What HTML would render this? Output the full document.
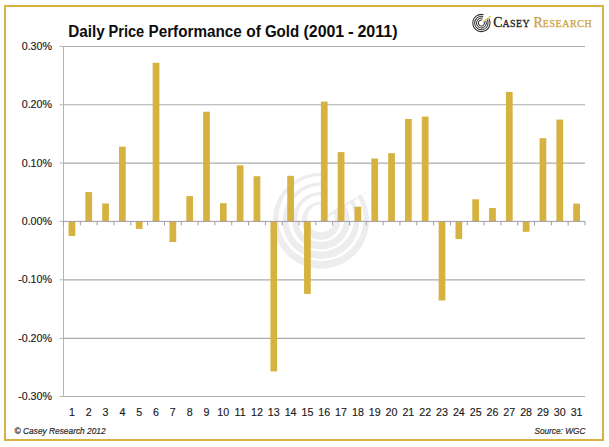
<!DOCTYPE html>
<html><head><meta charset="utf-8"><style>
html,body{margin:0;padding:0;background:#fff;}
svg{display:block;}
text{font-family:"Liberation Sans",sans-serif;}
</style></head><body>
<svg width="609" height="447" viewBox="0 0 609 447">
<rect x="0" y="0" width="609" height="447" fill="#fff"/>
<rect x="5" y="6" width="598" height="434" fill="none" stroke="#D4B344" stroke-width="2"/>
<defs><mask id="wmm"><rect x="0" y="0" width="609" height="447" fill="#fff"/><polygon points="321.0,218.0 326.6,138.2 341.7,140.7 361.0,148.7 377.6,161.4 389.6,176.8" fill="#000"/></mask></defs>
<path d="M301.80,220.70 a19.2,19.2 0 1 0 38.40,0 a19.2,19.2 0 1 0 -38.40,0 Z M307.10,218.50 a13.9,13.9 0 1 0 27.80,0 a13.9,13.9 0 1 0 -27.80,0 Z M292.20,220.70 a28.799999999999997,28.799999999999997 0 1 0 57.60,0 a28.799999999999997,28.799999999999997 0 1 0 -57.60,0 Z M297.50,218.50 a23.5,23.5 0 1 0 47.00,0 a23.5,23.5 0 1 0 -47.00,0 Z M282.60,220.70 a38.4,38.4 0 1 0 76.80,0 a38.4,38.4 0 1 0 -76.80,0 Z M287.90,218.50 a33.1,33.1 0 1 0 66.20,0 a33.1,33.1 0 1 0 -66.20,0 Z M273.00,220.70 a48.0,48.0 0 1 0 96.00,0 a48.0,48.0 0 1 0 -96.00,0 Z M278.30,218.50 a42.699999999999996,42.699999999999996 0 1 0 85.40,0 a42.699999999999996,42.699999999999996 0 1 0 -85.40,0 Z" fill="#EDEDEF" fill-rule="evenodd" mask="url(#wmm)"/>
<path d="M323,217.5 Q345,203 370,190.3 Q347,206 324,219.5 Z" fill="#EDEDEF"/>
<g stroke="#ABABAB" stroke-width="1.15" fill="none">
<line x1="63.5" y1="46.45" x2="585.0" y2="46.45"/><line x1="63.5" y1="104.75" x2="585.0" y2="104.75"/><line x1="63.5" y1="163.05" x2="585.0" y2="163.05"/><line x1="63.5" y1="279.8" x2="585.0" y2="279.8"/><line x1="63.5" y1="338.35" x2="585.0" y2="338.35"/><line x1="63.5" y1="396.45" x2="585.0" y2="396.45"/>
</g>
<g stroke="#B4B4B4" stroke-width="1" fill="none">
<line x1="59.5" y1="46.45" x2="63.5" y2="46.45"/><line x1="59.5" y1="104.75" x2="63.5" y2="104.75"/><line x1="59.5" y1="163.05" x2="63.5" y2="163.05"/><line x1="59.5" y1="221.4" x2="63.5" y2="221.4"/><line x1="59.5" y1="279.8" x2="63.5" y2="279.8"/><line x1="59.5" y1="338.35" x2="63.5" y2="338.35"/><line x1="59.5" y1="396.45" x2="63.5" y2="396.45"/>
<line x1="63.5" y1="46" x2="63.5" y2="397"/>
</g>
<g fill="#D6B240">
<rect x="68.55" y="221.40" width="6.73" height="14.60"/><rect x="85.37" y="192.10" width="6.73" height="29.30"/><rect x="102.19" y="203.50" width="6.73" height="17.90"/><rect x="119.01" y="146.70" width="6.73" height="74.70"/><rect x="135.84" y="221.40" width="6.73" height="7.50"/><rect x="152.66" y="62.80" width="6.73" height="158.60"/><rect x="169.48" y="221.40" width="6.73" height="20.60"/><rect x="186.30" y="196.10" width="6.73" height="25.30"/><rect x="203.13" y="111.70" width="6.73" height="109.70"/><rect x="219.95" y="203.20" width="6.73" height="18.20"/><rect x="236.77" y="165.30" width="6.73" height="56.10"/><rect x="253.60" y="176.20" width="6.73" height="45.20"/><rect x="270.42" y="221.40" width="6.73" height="150.00"/><rect x="287.24" y="175.80" width="6.73" height="45.60"/><rect x="304.06" y="221.40" width="6.73" height="72.50"/><rect x="320.89" y="101.60" width="6.73" height="119.80"/><rect x="337.71" y="152.10" width="6.73" height="69.30"/><rect x="354.53" y="206.70" width="6.73" height="14.70"/><rect x="371.35" y="158.50" width="6.73" height="62.90"/><rect x="388.18" y="153.20" width="6.73" height="68.20"/><rect x="405.00" y="119.00" width="6.73" height="102.40"/><rect x="421.82" y="116.60" width="6.73" height="104.80"/><rect x="438.64" y="221.40" width="6.73" height="79.10"/><rect x="455.47" y="221.40" width="6.73" height="17.70"/><rect x="472.29" y="199.30" width="6.73" height="22.10"/><rect x="489.11" y="208.00" width="6.73" height="13.40"/><rect x="505.93" y="91.90" width="6.73" height="129.50"/><rect x="522.76" y="221.40" width="6.73" height="10.40"/><rect x="539.58" y="138.20" width="6.73" height="83.20"/><rect x="556.40" y="119.60" width="6.73" height="101.80"/><rect x="573.22" y="203.60" width="6.73" height="17.80"/>
</g>
<g stroke="#9E9CA6" stroke-width="1" fill="none">
<line x1="63.5" y1="221.4" x2="585.0" y2="221.4"/>
<line x1="63.50" y1="221.4" x2="63.50" y2="225.4"/><line x1="80.32" y1="221.4" x2="80.32" y2="225.4"/><line x1="97.15" y1="221.4" x2="97.15" y2="225.4"/><line x1="113.97" y1="221.4" x2="113.97" y2="225.4"/><line x1="130.79" y1="221.4" x2="130.79" y2="225.4"/><line x1="147.61" y1="221.4" x2="147.61" y2="225.4"/><line x1="164.44" y1="221.4" x2="164.44" y2="225.4"/><line x1="181.26" y1="221.4" x2="181.26" y2="225.4"/><line x1="198.08" y1="221.4" x2="198.08" y2="225.4"/><line x1="214.90" y1="221.4" x2="214.90" y2="225.4"/><line x1="231.73" y1="221.4" x2="231.73" y2="225.4"/><line x1="248.55" y1="221.4" x2="248.55" y2="225.4"/><line x1="265.37" y1="221.4" x2="265.37" y2="225.4"/><line x1="282.19" y1="221.4" x2="282.19" y2="225.4"/><line x1="299.02" y1="221.4" x2="299.02" y2="225.4"/><line x1="315.84" y1="221.4" x2="315.84" y2="225.4"/><line x1="332.66" y1="221.4" x2="332.66" y2="225.4"/><line x1="349.48" y1="221.4" x2="349.48" y2="225.4"/><line x1="366.31" y1="221.4" x2="366.31" y2="225.4"/><line x1="383.13" y1="221.4" x2="383.13" y2="225.4"/><line x1="399.95" y1="221.4" x2="399.95" y2="225.4"/><line x1="416.77" y1="221.4" x2="416.77" y2="225.4"/><line x1="433.60" y1="221.4" x2="433.60" y2="225.4"/><line x1="450.42" y1="221.4" x2="450.42" y2="225.4"/><line x1="467.24" y1="221.4" x2="467.24" y2="225.4"/><line x1="484.06" y1="221.4" x2="484.06" y2="225.4"/><line x1="500.89" y1="221.4" x2="500.89" y2="225.4"/><line x1="517.71" y1="221.4" x2="517.71" y2="225.4"/><line x1="534.53" y1="221.4" x2="534.53" y2="225.4"/><line x1="551.35" y1="221.4" x2="551.35" y2="225.4"/><line x1="568.18" y1="221.4" x2="568.18" y2="225.4"/><line x1="585.00" y1="221.4" x2="585.00" y2="225.4"/>
</g>
<g fill="#1a1a1a" stroke="#1a1a1a" stroke-width="0.15" font-size="10.7" text-anchor="end">
<text x="52" y="50.0">0.30%</text><text x="52" y="108.2">0.20%</text><text x="52" y="166.6">0.10%</text><text x="52" y="224.9">0.00%</text><text x="52" y="283.3">-0.10%</text><text x="52" y="341.9">-0.20%</text><text x="52" y="399.9">-0.30%</text>
</g>
<g fill="#1a1a1a" stroke="#1a1a1a" stroke-width="0.15" font-size="10.7" text-anchor="middle">
<text x="71.91" y="416.3">1</text><text x="88.73" y="416.3">2</text><text x="105.56" y="416.3">3</text><text x="122.38" y="416.3">4</text><text x="139.20" y="416.3">5</text><text x="156.02" y="416.3">6</text><text x="172.85" y="416.3">7</text><text x="189.67" y="416.3">8</text><text x="206.49" y="416.3">9</text><text x="223.31" y="416.3">10</text><text x="240.14" y="416.3">11</text><text x="256.96" y="416.3">12</text><text x="273.78" y="416.3">13</text><text x="290.60" y="416.3">14</text><text x="307.43" y="416.3">15</text><text x="324.25" y="416.3">16</text><text x="341.07" y="416.3">17</text><text x="357.90" y="416.3">18</text><text x="374.72" y="416.3">19</text><text x="391.54" y="416.3">20</text><text x="408.36" y="416.3">21</text><text x="425.19" y="416.3">22</text><text x="442.01" y="416.3">23</text><text x="458.83" y="416.3">24</text><text x="475.65" y="416.3">25</text><text x="492.48" y="416.3">26</text><text x="509.30" y="416.3">27</text><text x="526.12" y="416.3">28</text><text x="542.94" y="416.3">29</text><text x="559.77" y="416.3">30</text><text x="576.59" y="416.3">31</text>
</g>
<g font-size="16" font-weight="bold" fill="#0d0d0d"><text x="68.2" y="36.5" textLength="36.5" lengthAdjust="spacingAndGlyphs">Daily</text><text x="108.5" y="36.5" textLength="35.7" lengthAdjust="spacingAndGlyphs">Price</text><text x="148.5" y="36.5" textLength="93.3" lengthAdjust="spacingAndGlyphs">Performance</text><text x="246.2" y="36.5" textLength="14.6" lengthAdjust="spacingAndGlyphs">of</text><text x="264.9" y="36.5" textLength="34.3" lengthAdjust="spacingAndGlyphs">Gold</text><text x="303.5" y="36.5" textLength="40.7" lengthAdjust="spacingAndGlyphs">(2001</text><text x="348.1" y="36.5" textLength="5.7" lengthAdjust="spacingAndGlyphs">-</text><text x="357.4" y="36.5" textLength="40.2" lengthAdjust="spacingAndGlyphs">2011)</text></g>
<text x="14.6" y="434" font-size="9.2" font-style="italic" fill="#2a2a2a" stroke="#2a2a2a" stroke-width="0.2" textLength="91" lengthAdjust="spacingAndGlyphs">© Casey Research 2012</text>
<text x="534.4" y="434" font-size="9.2" font-style="italic" fill="#2a2a2a" stroke="#2a2a2a" stroke-width="0.2" textLength="51" lengthAdjust="spacingAndGlyphs">Source: WGC</text>
<g fill="none" stroke="#333" stroke-width="1.05">
<path d="M484.00,21.50 A3.0,3.0 0 1 1 482.18,20.10"/>
<path d="M485.64,20.55 A4.9,4.9 0 1 1 482.67,18.27"/>
<path d="M487.29,19.60 A6.8,6.8 0 1 1 483.16,16.43"/>
<path d="M488.85,18.70 A8.6,8.6 0 1 1 483.63,14.69"/>
</g>
<path d="M482.9,22.0 L490.9,16.0" stroke="#DCC460" stroke-width="1.2"/>
<text y="26.5" style="font-family:'Liberation Serif',serif" fill="#1e1e1e" stroke="#1e1e1e" stroke-width="0.3"><tspan x="493.2" font-size="13.8">C</tspan><tspan font-size="9.9" letter-spacing="0.45">ASEY</tspan></text>
<text y="26.5" style="font-family:'Liberation Serif',serif" fill="#C9A03A" stroke="#C9A03A" stroke-width="0.25"><tspan x="533.6" font-size="13.8">R</tspan><tspan font-size="9.9" letter-spacing="0.65">ESEARCH</tspan></text>
</svg>
</body></html>
